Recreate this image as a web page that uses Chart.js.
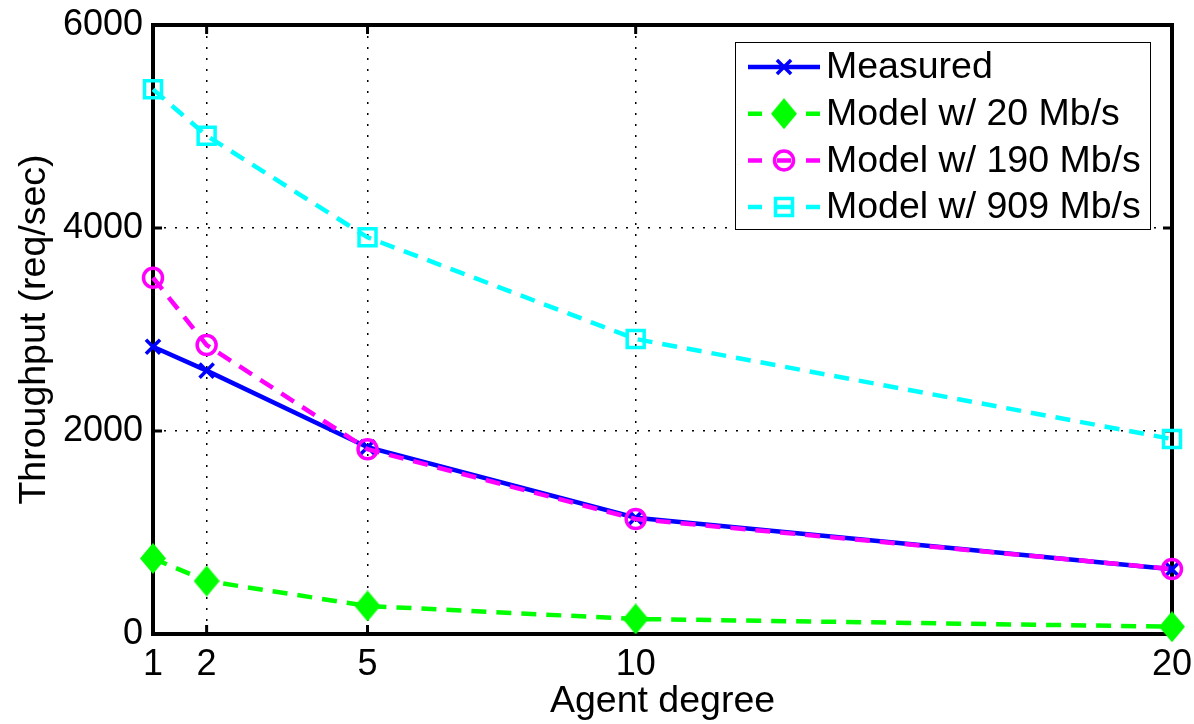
<!DOCTYPE html>
<html>
<head>
<meta charset="utf-8">
<script src="https://cdn.jsdelivr.net/npm/chart.js@4.4.0/dist/chart.umd.min.js"></script>
<style>
  html, body { margin: 0; padding: 0; background: #fff; }
  #wrap { width: 1194px; height: 724px; }
</style>
</head>
<body>
<div id="wrap"><canvas id="chart" width="1194" height="724"></canvas></div>
<script>
// agent degree on the x axis, throughput in req/sec
const degrees = [1, 2, 5, 10, 20];
const measured = [2830, 2595, 1840, 1145, 637];
const model20 = [745, 522, 276, 148, 72];
const model190 = [3510, 2847, 1820, 1133, 640];
const model909 = [5366, 4909, 3908, 2906, 1921];
const seriesNames = ['Measured', 'Model w/ 20 Mb/s', 'Model w/ 190 Mb/s', 'Model w/ 909 Mb/s'];
const yTicks = [0, 2000, 4000, 6000];

const FONT = "'Liberation Sans', Arial, Helvetica, sans-serif";
Chart.defaults.font.family = FONT;
Chart.defaults.font.size = 36;
Chart.defaults.color = '#000';

function toPoints(values) {
  return degrees.map((d, i) => ({ x: d, y: values[i] }));
}

// filled diamond marker, a bit taller than wide
function makeDiamond(w, h, color) {
  const c = document.createElement('canvas');
  c.width = w; c.height = h;
  const g = c.getContext('2d');
  g.fillStyle = color;
  g.beginPath();
  g.moveTo(w / 2, 0); g.lineTo(w, h / 2); g.lineTo(w / 2, h); g.lineTo(0, h / 2);
  g.closePath();
  g.fill();
  return c;
}
const diamond = makeDiamond(26, 31, '#00ff00');
const dash = [15, 10];

// box around the plot with inward ticks on all four sides
const framePlugin = {
  id: 'frame',
  beforeDatasetsDraw(chart) {
    const { ctx, chartArea: a, scales } = chart;
    const tl = 9;
    ctx.save();
    ctx.strokeStyle = '#000';
    ctx.lineWidth = 3;
    ctx.beginPath();
    degrees.forEach(d => {
      const x = scales.x.getPixelForValue(d);
      ctx.moveTo(x, a.bottom); ctx.lineTo(x, a.bottom - tl);
      ctx.moveTo(x, a.top); ctx.lineTo(x, a.top + tl);
    });
    yTicks.forEach(v => {
      const y = scales.y.getPixelForValue(v);
      ctx.moveTo(a.left, y); ctx.lineTo(a.left + tl, y);
      ctx.moveTo(a.right, y); ctx.lineTo(a.right - tl, y);
    });
    ctx.stroke();
    ctx.lineWidth = 4;
    ctx.strokeRect(a.left, a.top, a.right - a.left, a.bottom - a.top);
    ctx.restore();
  }
};

// legend box in the upper right corner, line sample + marker + name
const legendPlugin = {
  id: 'boxLegend',
  afterDatasetsDraw(chart) {
    const { ctx, chartArea: a } = chart;
    const w = 415, h = 187;
    const bx = a.right - 22 - w, by = a.top + 17;
    ctx.save();
    ctx.fillStyle = '#fff';
    ctx.fillRect(bx, by, w, h);
    ctx.strokeStyle = '#000';
    ctx.lineWidth = 1;
    ctx.strokeRect(bx + 0.5, by + 0.5, w, h);
    chart.data.datasets.forEach((ds, i) => {
      const y = by + 25 + i * 46.7;
      const x0 = bx + 13, x1 = bx + 85, mx = (x0 + x1) / 2;
      ctx.save();
      ctx.strokeStyle = ds.borderColor;
      ctx.lineWidth = ds.borderWidth;
      ctx.setLineDash(ds.borderDash ? [14, 15] : []);
      ctx.beginPath();
      ctx.moveTo(x0, y); ctx.lineTo(x1, y);
      ctx.stroke();
      ctx.restore();
      ctx.save();
      ctx.strokeStyle = ds.pointBorderColor || ds.borderColor;
      ctx.fillStyle = ds.pointBackgroundColor || 'rgba(0,0,0,0)';
      ctx.lineWidth = ds.pointBorderWidth;
      Chart.helpers.drawPoint(ctx, {
        pointStyle: ds.pointStyle,
        rotation: 0,
        radius: ds.pointRadius,
        borderWidth: ds.pointBorderWidth
      }, mx, y);
      ctx.restore();
      ctx.fillStyle = '#000';
      ctx.font = '37.5px ' + FONT;
      ctx.textBaseline = 'middle';
      ctx.textAlign = 'left';
      ctx.fillText(seriesNames[i], bx + 91, y + 1);
    });
    ctx.restore();
  }
};

new Chart(document.getElementById('chart'), {
  type: 'line',
  data: {
    datasets: [
      {
        label: seriesNames[0],
        data: toPoints(measured),
        borderColor: '#0000ff',
        borderWidth: 4.5,
        pointStyle: 'crossRot',
        pointRadius: 10,
        pointBorderWidth: 3.5,
        pointBorderColor: '#0000ff',
        order: 4
      },
      {
        label: seriesNames[1],
        data: toPoints(model20),
        borderColor: '#00ff00',
        borderWidth: 4.5,
        borderDash: dash,
        pointStyle: diamond,
        pointRadius: 13,
        pointBorderWidth: 0,
        order: 3
      },
      {
        label: seriesNames[2],
        data: toPoints(model190),
        borderColor: '#ff00ff',
        borderWidth: 4.5,
        borderDash: dash,
        pointStyle: 'circle',
        pointRadius: 9.5,
        pointBorderWidth: 3.5,
        pointBorderColor: '#ff00ff',
        pointBackgroundColor: 'rgba(0,0,0,0)',
        order: 2
      },
      {
        label: seriesNames[3],
        data: toPoints(model909),
        borderColor: '#00ffff',
        borderWidth: 4.5,
        borderDash: dash,
        pointStyle: 'rect',
        pointRadius: 12,
        pointBorderWidth: 3.5,
        pointBorderColor: '#00ffff',
        pointBackgroundColor: 'rgba(0,0,0,0)',
        order: 1
      }
    ]
  },
  options: {
    responsive: false,
    animation: false,
    events: [],
    layout: { padding: { top: 25, right: 22, left: 0, bottom: 0 } },
    elements: { line: { tension: 0 } },
    datasets: { line: { clip: false } },
    plugins: {
      legend: { display: false },
      tooltip: { enabled: false }
    },
    scales: {
      x: {
        type: 'linear',
        min: 1,
        max: 20,
        afterBuildTicks: s => { s.ticks = degrees.map(v => ({ value: v })); },
        afterFit: s => { s.height = 90; s.paddingLeft = 0; s.paddingRight = 0; },
        ticks: { padding: 9, font: { size: 36 }, color: '#000', callback: v => String(v) },
        grid: { color: '#000', lineWidth: 1.5, drawTicks: false },
        border: { display: false, dash: [2, 9] },
        title: { display: true, text: 'Agent degree', font: { size: 37.5 }, color: '#000', padding: { top: 0, bottom: 0 } }
      },
      y: {
        min: 0,
        max: 6000,
        afterBuildTicks: s => { s.ticks = yTicks.map(v => ({ value: v })); },
        afterFit: s => { s.width = 153; s.paddingTop = 0; s.paddingBottom = 0; },
        ticks: { padding: 10, font: { size: 36 }, color: '#000', callback: v => String(v) },
        grid: { color: '#000', lineWidth: 1.5, drawTicks: false },
        border: { display: false, dash: [2, 9] },
        title: { display: true, text: 'Throughput (req/sec)', font: { size: 37.5 }, color: '#000', padding: { top: 12, bottom: 0 } }
      }
    }
  },
  plugins: [framePlugin, legendPlugin]
});
</script>
</body>
</html>
